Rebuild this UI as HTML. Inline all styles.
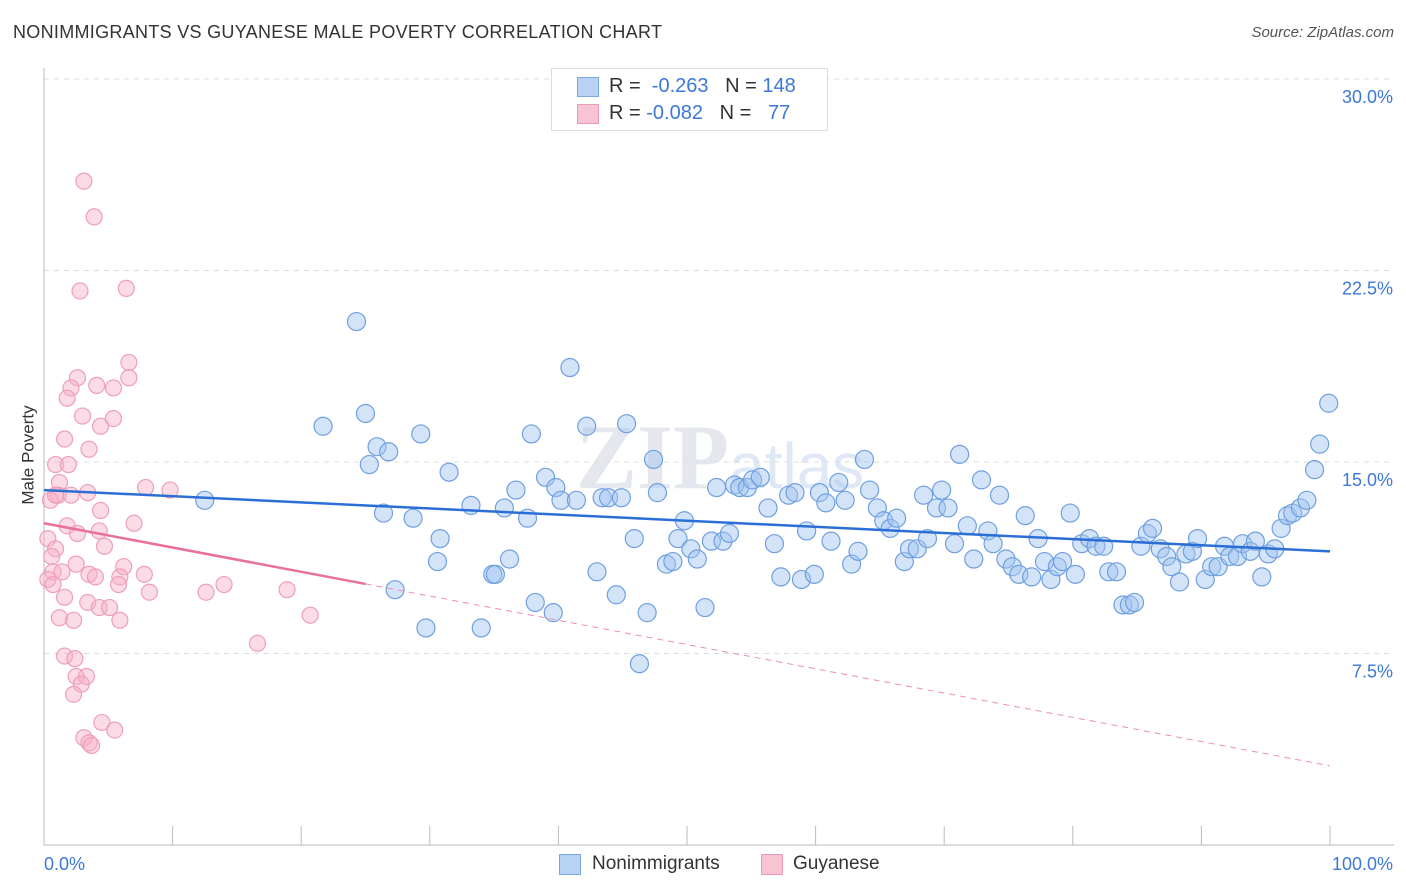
<!DOCTYPE html>
<html><head><meta charset="utf-8">
<style>
body{margin:0;background:#fff;font-family:"Liberation Sans",sans-serif;}
#wrap{position:relative;width:1406px;height:892px;overflow:hidden;}
.t{position:absolute;white-space:nowrap;}
</style></head>
<body>
<div id="wrap">
<div class="t" style="left:13px;top:22px;font-size:18px;color:#333;letter-spacing:0.3px;">NONIMMIGRANTS VS GUYANESE MALE POVERTY CORRELATION CHART</div>
<div class="t" style="right:12px;top:24px;font-size:15px;color:#555;font-style:italic;">Source: ZipAtlas.com</div>
<div class="t" style="left:-21px;top:445px;font-size:17px;color:#333;transform:rotate(-90deg);">Male Poverty</div>
<svg id="chart" width="1406" height="892" style="position:absolute;left:0;top:0"></svg>
<div style="position:absolute;left:551px;top:68px;width:275px;height:61px;border:1px solid #ddd;background:#fff;">
  <div style="position:absolute;left:25px;top:8px;width:20px;height:18px;background:#b8d2f4;border:1px solid #7aa6e4;"></div>
  <div class="t" style="left:57px;top:6px;font-size:20px;color:#333;">R = <span style="color:#3b78d8">&nbsp;-0.263</span>&nbsp;&nbsp;&nbsp;N = <span style="color:#3b78d8">148</span></div>
  <div style="position:absolute;left:25px;top:35px;width:20px;height:18px;background:#f8c4d3;border:1px solid #eb9ab4;"></div>
  <div class="t" style="left:57px;top:33px;font-size:20px;color:#333;">R = <span style="color:#3b78d8">-0.082</span>&nbsp;&nbsp;&nbsp;N = <span style="color:#3b78d8">&nbsp;&nbsp;77</span></div>
</div>
<div>
  <div style="position:absolute;left:559px;top:854px;width:20px;height:19px;background:#b8d2f4;border:1px solid #7aa6e4;"></div>
  <div class="t" style="left:592px;top:853px;font-size:19px;color:#333;">Nonimmigrants</div>
  <div style="position:absolute;left:761px;top:854px;width:20px;height:19px;background:#f8c4d3;border:1px solid #eb9ab4;"></div>
  <div class="t" style="left:793px;top:853px;font-size:19px;color:#333;">Guyanese</div>
</div>
</div>
<script>
const blueX=[12.5,21.7,24.3,25.0,25.3,25.9,26.4,26.8,27.3,28.7,29.3,29.7,30.6,30.8,31.5,33.2,34.0,34.9,35.1,35.8,36.2,36.7,37.6,37.9,38.2,39.0,39.6,39.8,40.2,40.9,41.4,42.2,43.0,43.4,43.9,44.5,44.9,45.3,45.9,46.3,46.9,47.4,47.7,48.4,48.9,49.3,49.8,50.3,50.8,51.4,51.9,52.3,52.8,53.3,53.7,54.1,54.7,55.1,55.7,56.3,56.8,57.3,57.9,58.4,58.9,59.3,59.9,60.3,60.8,61.2,61.8,62.3,62.8,63.3,63.8,64.2,64.8,65.3,65.8,66.3,66.9,67.3,67.9,68.4,68.7,69.4,69.8,70.3,70.8,71.2,71.8,72.3,72.9,73.4,73.8,74.3,74.8,75.3,75.8,76.3,76.8,77.3,77.8,78.3,78.8,79.2,79.8,80.2,80.7,81.3,81.8,82.4,82.8,83.4,83.9,84.4,84.8,85.3,85.8,86.2,86.8,87.3,87.7,88.3,88.8,89.3,89.7,90.3,90.8,91.3,91.8,92.2,92.8,93.2,93.8,94.2,94.7,95.2,95.7,96.2,96.7,97.1,97.7,98.2,98.8,99.2,99.9];
const blueY=[13.5,16.4,20.5,16.9,14.9,15.6,13.0,15.4,10.0,12.8,16.1,8.5,11.1,12.0,14.6,13.3,8.5,10.6,10.6,13.2,11.2,13.9,12.8,16.1,9.5,14.4,9.1,14.0,13.5,18.7,13.5,16.4,10.7,13.6,13.6,9.8,13.6,16.5,12.0,7.1,9.1,15.1,13.8,11.0,11.1,12.0,12.7,11.6,11.2,9.3,11.9,14.0,11.9,12.2,14.1,14.0,14.0,14.3,14.4,13.2,11.8,10.5,13.7,13.8,10.4,12.3,10.6,13.8,13.4,11.9,14.2,13.5,11.0,11.5,15.1,13.9,13.2,12.7,12.4,12.8,11.1,11.6,11.6,13.7,12.0,13.2,13.9,13.2,11.8,15.3,12.5,11.2,14.3,12.3,11.8,13.7,11.2,10.9,10.6,12.9,10.5,12.0,11.1,10.4,10.9,11.1,13.0,10.6,11.8,12.0,11.7,11.7,10.7,10.7,9.4,9.4,9.5,11.7,12.2,12.4,11.6,11.3,10.9,10.3,11.4,11.5,12.0,10.4,10.9,10.9,11.7,11.3,11.3,11.8,11.5,11.9,10.5,11.4,11.6,12.4,12.9,13.0,13.2,13.5,14.7,15.7,17.3];
const pinkX=[3.1,3.9,2.8,6.4,6.6,6.6,2.6,2.1,1.8,5.4,4.1,3.0,5.4,4.4,1.6,3.5,0.9,1.9,1.2,1.1,2.1,3.4,7.9,9.8,0.5,0.9,1.8,4.4,7.0,4.3,2.6,0.3,4.7,0.9,0.6,2.5,6.2,0.7,1.4,0.3,0.7,3.5,4.0,7.8,5.9,5.8,14.0,8.2,12.6,18.9,1.6,3.4,4.3,5.1,20.7,1.2,2.3,5.9,16.6,1.6,2.4,2.5,3.3,2.9,2.3,4.5,5.5,3.1,3.5,3.7];
const pinkY=[26.0,24.6,21.7,21.8,18.9,18.3,18.3,17.9,17.5,17.9,18.0,16.8,16.7,16.4,15.9,15.5,14.9,14.9,14.2,13.7,13.7,13.8,14.0,13.9,13.5,13.7,12.5,13.1,12.6,12.3,12.2,12.0,11.7,11.6,11.3,11.0,10.9,10.7,10.7,10.4,10.2,10.6,10.5,10.6,10.5,10.2,10.2,9.9,9.9,10.0,9.7,9.5,9.3,9.3,9.0,8.9,8.8,8.8,7.9,7.4,7.3,6.6,6.6,6.3,5.9,4.8,4.5,4.2,4.0,3.9];
const yTicks=[30,22.5,15,7.5];
const yTickLabels=["30.0%","22.5%","15.0%","7.5%"];
const xTicks=[0,10,20,30,40,50,60,70,80,90,100];
const blueTrend=[13.9,11.5];
const pinkTrend=[12.6,3.1];
const pinkSolidEnd=25;

const NS="http://www.w3.org/2000/svg";
const svg=document.getElementById('chart');
const X0=44,X1=1330,Y0=845,YT=79;
const xs=v=>X0+(X1-X0)*v/100;
const ys=v=>Y0-(Y0-YT)*v/30;
function mk(tag,attrs,parent){const e=document.createElementNS(NS,tag);for(const k in attrs)e.setAttribute(k,attrs[k]);(parent||svg).appendChild(e);return e;}

const wm=mk('text',{x:720,y:488,'text-anchor':'middle','font-size':92,fill:'#e9eef5','font-family':'Liberation Serif, serif'});


wm.innerHTML='<tspan font-weight="bold" fill="#e4e8ee">ZIP</tspan><tspan font-family="Liberation Sans, sans-serif" font-size="64" fill="#dfe9f6">atlas</tspan>';

yTicks.forEach((v,i)=>{
  const g=mk('line',{x1:X0,x2:1394,y1:ys(v),y2:ys(v),stroke:'#dcdcdc','stroke-dasharray':'5,5'});
  
  
  const t=mk('text',{x:1393,y:ys(v)+24,'text-anchor':'end','font-size':18,fill:'#3b78d8','font-family':'Liberation Sans, sans-serif'});
  
  
  t.textContent=yTickLabels[i];
});
const ax=mk('line',{x1:X0,x2:1394,y1:Y0,y2:Y0,stroke:'#bbb'});


const ay=mk('line',{x1:X0,x2:X0,y1:68,y2:Y0,stroke:'#bbb'});


xTicks.forEach(v=>{
  const l=mk('line',{x1:xs(v),x2:xs(v),y1:Y0,y2:826,stroke:'#bbb'});
  
  
});
const xl0=mk('text',{x:44,y:870,'font-size':18,fill:'#3b78d8','font-family':'Liberation Sans, sans-serif'});


xl0.textContent='0.0%';
const xl1=mk('text',{x:1393,y:870,'text-anchor':'end','font-size':18,fill:'#3b78d8','font-family':'Liberation Sans, sans-serif'});


xl1.textContent='100.0%';

pinkX.forEach((x,i)=>{
  const c=mk('circle',{cx:xs(x),cy:ys(pinkY[i]),r:8,fill:'rgba(246,176,198,0.45)',stroke:'#ee9fb8','stroke-width':1.2});
  
  
});
blueX.forEach((x,i)=>{
  const c=mk('circle',{cx:xs(x),cy:ys(blueY[i]),r:9,fill:'rgba(160,195,240,0.45)',stroke:'#6f9fe0','stroke-width':1.2});
  
  
});
const pv=x=>pinkTrend[0]+(pinkTrend[1]-pinkTrend[0])*x/100;
const pd=mk('line',{x1:xs(pinkSolidEnd),y1:ys(pv(pinkSolidEnd)),x2:xs(100),y2:ys(pv(100)),stroke:'#ec8fae','stroke-width':1,'stroke-dasharray':'6,5'});


const ps=mk('line',{x1:xs(0),y1:ys(pv(0)),x2:xs(pinkSolidEnd),y2:ys(pv(pinkSolidEnd)),stroke:'#e8709a','stroke-width':2.5});


const bl=mk('line',{x1:xs(0),y1:ys(blueTrend[0]),x2:xs(100),y2:ys(blueTrend[1]),stroke:'#2b6fd6','stroke-width':2.5});


</script>
</body></html>
